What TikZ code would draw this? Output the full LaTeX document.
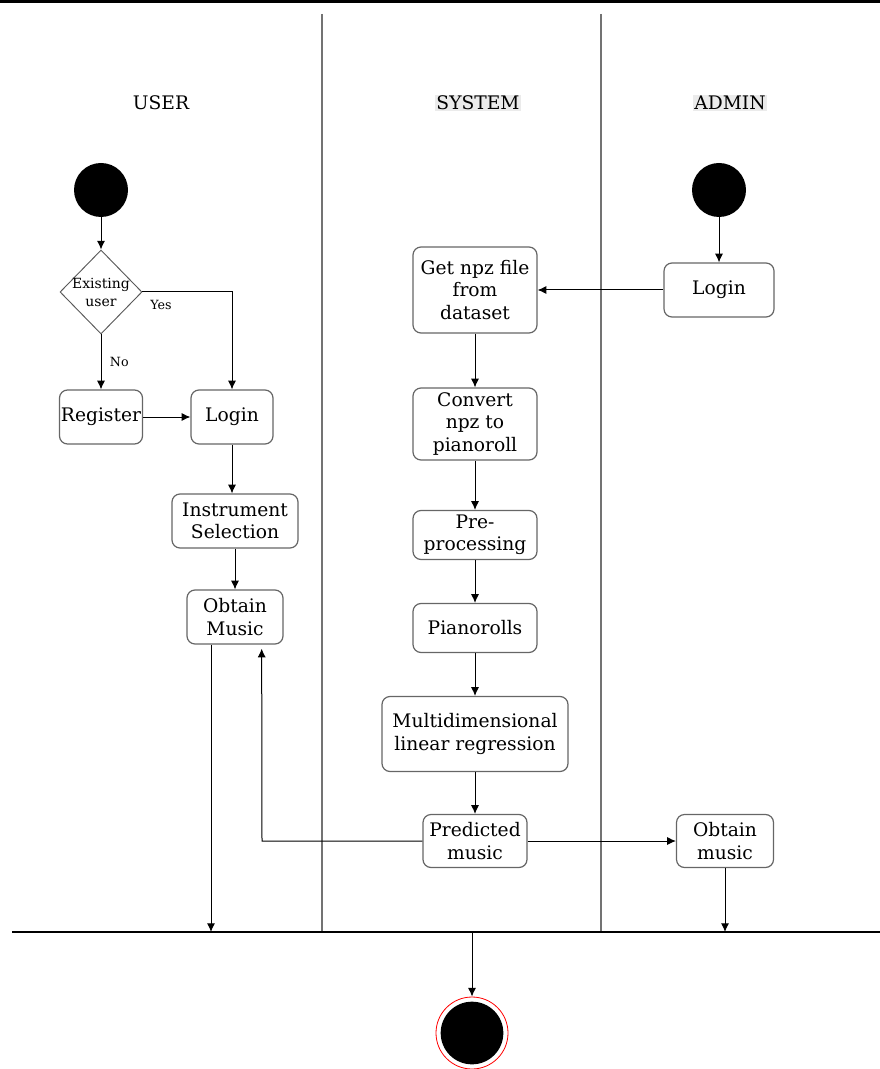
\documentclass[tikz,border=0pt]{standalone}
\usepackage{fontspec}
\setmainfont{DejaVu Serif}
\usepackage{xcolor}
\usetikzlibrary{arrows.meta,shapes.geometric}

\begin{document}
\begin{tikzpicture}[
  x=0.75pt, y=-0.75pt,
  box/.style={draw=black!60, line width=0.9pt, rounded corners=6pt, align=center, inner sep=0pt, font=\fontsize{14}{16.7}\selectfont},
  lane/.style={black!55, line width=1.2pt},
  lanehead/.style={inner sep=1pt, font=\fontsize{14}{17}\selectfont},
  startstate/.style={circle, fill=black, minimum size=40.5pt, inner sep=0pt},
  decision/.style={diamond, draw=black!65, line width=0.7pt, minimum width=61.5pt, minimum height=63pt, inner sep=0pt},
  guard/.style={font=\fontsize{9.5}{11}\selectfont},
  arrow/.style={-{Latex[length=6.5pt,width=6pt]}, black, line width=0.75pt}
]
\useasboundingbox (0,0) rectangle (880,1069);
\fill[black] (0,0) rectangle (880,3);

% swimlanes
\draw[lane] (322,14) -- (322,932);
\draw[lane] (601,14) -- (601,932);
\node[lanehead] (huser) at (161,103) {USER};
\node[lanehead, fill=black!8] (hsystem) at (478,103) {SYSTEM};
\node[lanehead, fill=black!8] (hadmin) at (730,103) {ADMIN};

% join bar
\coordinate (barl) at (12,932);
\coordinate (barr) at (880,932);
\draw[black, line width=1pt] (barl) -- (barr);

% user lane
\node[startstate] (ustart) at (101,190) {};
\node[decision, label={[font=\fontsize{10.5}{13.5}\selectfont, align=center]center:Existing\\user}] (exist) at (101,292) {};
\node[box, minimum width=62.25pt, minimum height=40.5pt] (register) at (101,417) {Register};
\node[box, minimum width=61.5pt, minimum height=40.5pt] (ulogin) at (232,417) {Login};
\node[box, minimum width=94.5pt, minimum height=40.5pt] (instr) at (235,521) {Instrument\\Selection};
\node[box, minimum width=72pt, minimum height=40.5pt] (uobtain) at (235,617) {Obtain\\Music};

% system lane
\node[box, minimum width=93pt, minimum height=64.5pt] (getnpz) at (475,290) {Get npz file\\from\\dataset};
\node[box, minimum width=93pt, minimum height=54pt] (convert) at (475,424) {Convert\\npz to\\pianoroll};
\node[box, minimum width=93pt, minimum height=36.75pt] (preproc) at (475,535) {Pre-\\processing};
\node[box, minimum width=93pt, minimum height=36.75pt] (rolls) at (475,628) {Pianorolls};
\node[box, minimum width=139.5pt, minimum height=56.25pt] (regress) at (475,734) {Multidimensional\\linear regression};
\node[box, minimum width=78pt, minimum height=39.75pt] (predicted) at (475,841) {Predicted\\music};

% admin lane
\node[startstate] (astart) at (719,190) {};
\node[box, minimum width=82.5pt, minimum height=40.5pt] (alogin) at (719,290) {Login};
\node[box, minimum width=72.75pt, minimum height=39.75pt] (aobtain) at (725,841) {Obtain\\music};

% final state
\node[circle, draw=red, line width=0.6pt, minimum size=54pt, inner sep=0pt] (finring) at (472,1033) {};
\node[circle, fill=black, minimum size=47pt, inner sep=0pt] (final) at (472,1033) {};

% flows
\draw[arrow] (ustart) -- (exist);
\draw[arrow] (exist.south) -- node[guard, right=3pt] {No} (register);
\draw[arrow] (exist.east) -- (ulogin.north |- exist.east) -- (ulogin.north);
\node[guard] (yes) at (161,305) {Yes};
\draw[arrow] (register) -- (ulogin);
\draw[arrow] (ulogin.south) -- (ulogin.south |- instr.north);
\draw[arrow] (instr) -- (uobtain);
\draw[arrow] ([xshift=-18pt]uobtain.south) -- ([xshift=-18pt]uobtain.south |- barl);

\draw[arrow] (astart) -- (alogin);
\draw[arrow] (alogin) -- (getnpz);
\draw[arrow] (getnpz) -- (convert);
\draw[arrow] (convert) -- (preproc);
\draw[arrow] (preproc) -- (rolls);
\draw[arrow] (rolls) -- (regress);
\draw[arrow] (regress) -- (predicted);
\draw[arrow] (predicted.west) -- (262,841) -- ([xshift=20pt,yshift=-3pt]uobtain.south);
\draw[arrow] (predicted) -- (aobtain);
\draw[arrow] (aobtain.south) -- (aobtain.south |- barr);
\coordinate (barmid) at (472,932);
\draw[arrow] (barmid) -- (finring);
\end{tikzpicture}
\end{document}
